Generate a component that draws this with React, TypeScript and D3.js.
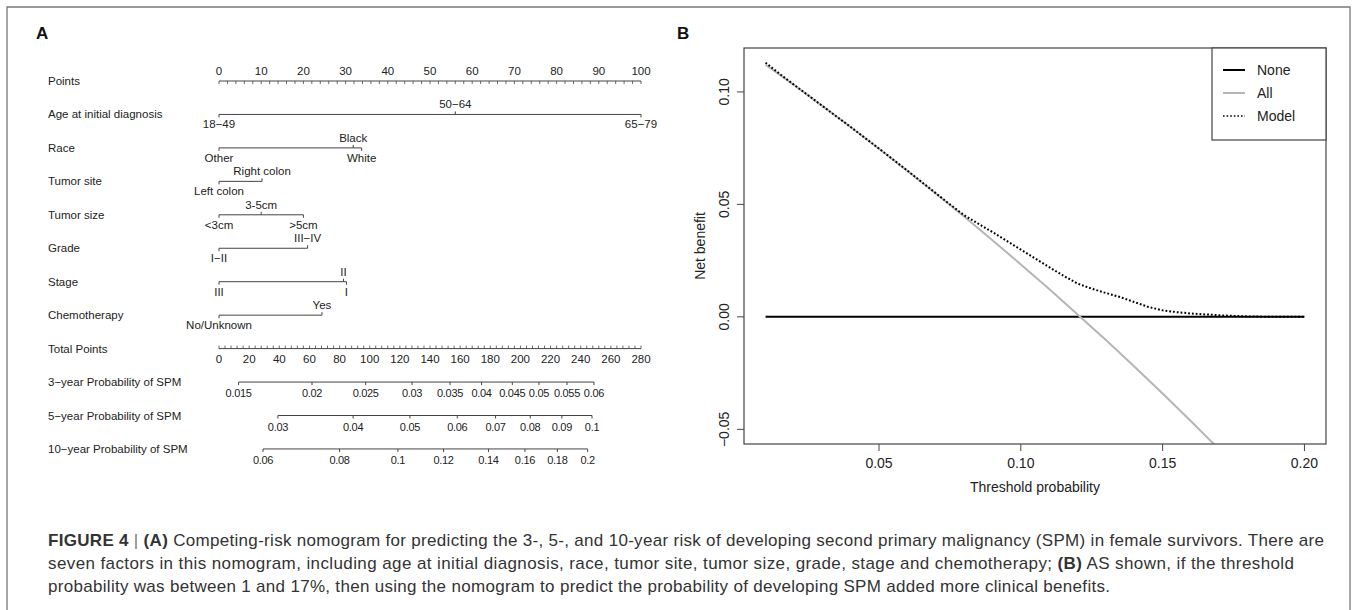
import React from "react";
import * as d3 from "d3";

// ---------- Panel A data (nomogram) ----------
const pointsTickLabels = [0, 10, 20, 30, 40, 50, 60, 70, 80, 90, 100];
const pointsMinorStep = 2;
const totalPointsTickLabels = [0, 20, 40, 60, 80, 100, 120, 140, 160, 180, 200, 220, 240, 260, 280];
const totalPointsMinorStep = 4;

const variableNames = [
  "Age at initial diagnosis",
  "Race",
  "Tumor site",
  "Tumor size",
  "Grade",
  "Stage",
  "Chemotherapy",
];
const ageLevels = ["18−49", "50−64", "65−79"];
const agePoints = [0, 56, 100];
const raceLevels = ["Other", "Black", "White"];
const racePoints = [0, 31.8, 33.8];
const siteLevels = ["Left colon", "Right colon"];
const sitePoints = [0, 10.2];
const sizeLevels = ["<3cm", "3-5cm", ">5cm"];
const sizePoints = [0, 10, 20];
const gradeLevels = ["I−II", "III−IV"];
const gradePoints = [0, 21];
const stageLevels = ["III", "II", "I"];
const stagePoints = [0, 29.5, 30.2];
const chemoLevels = ["No/Unknown", "Yes"];
const chemoPoints = [0, 24.4];

const probNames = [
  "3−year Probability of SPM",
  "5−year Probability of SPM",
  "10−year Probability of SPM",
];
// probability tick labels and the total points at which each sits
const prob3Ticks = [0.015, 0.02, 0.025, 0.03, 0.035, 0.04, 0.045, 0.05, 0.055, 0.06];
const prob3TotalPoints = [13, 61.7, 97.3, 128.1, 153.3, 174.2, 194.6, 212.3, 230.9, 248.8];
const prob5Ticks = [0.03, 0.04, 0.05, 0.06, 0.07, 0.08, 0.09, 0.1];
const prob5TotalPoints = [39.1, 89, 126.7, 158.1, 183.5, 206.5, 227.5, 247.5];
const prob10Ticks = [0.06, 0.08, 0.1, 0.12, 0.14, 0.16, 0.18, 0.2];
const prob10TotalPoints = [29.2, 80, 118.7, 149, 178.8, 203, 224.5, 244.6];

// ---------- Panel B data (decision curve) ----------
const allThresholds = [0.01, 0.02, 0.03, 0.04, 0.05, 0.06, 0.07, 0.08, 0.09, 0.1, 0.11, 0.12, 0.13, 0.14, 0.15, 0.16, 0.17];
const allNetBenefit = [0.1121, 0.1031, 0.0938, 0.0844, 0.0747, 0.0649, 0.0548, 0.0446, 0.0341, 0.0233, 0.0124, 0.0011, -0.0103, -0.0221, -0.0341, -0.0464, -0.059];
const noneThresholds = [0.01, 0.2];
const noneNetBenefit = [0, 0];
const modelThresholds = [
  0.01, 0.015, 0.02, 0.025, 0.03, 0.035, 0.04, 0.045, 0.05, 0.055, 0.06, 0.065, 0.07, 0.075, 0.08,
  0.085, 0.09, 0.095, 0.1, 0.105, 0.11, 0.115, 0.12, 0.125, 0.13, 0.135, 0.14, 0.145, 0.15, 0.155,
  0.16, 0.165, 0.17, 0.175, 0.18, 0.185, 0.19, 0.195, 0.2,
];
const modelNetBenefit = [
  0.113, 0.108, 0.1032, 0.0985, 0.0938, 0.0891, 0.0844, 0.0796, 0.0748, 0.0699, 0.065, 0.06, 0.055, 0.05, 0.0452,
  0.0414, 0.0377, 0.0338, 0.0299, 0.026, 0.0221, 0.0183, 0.0148, 0.0125, 0.0106, 0.0088, 0.0066, 0.0044, 0.0029, 0.0021,
  0.0015, 0.0011, 0.0007, 0.0004, 0.0002, 0.0001, 0, 0, 0,
];
const xTickLabels = [0.05, 0.1, 0.15, 0.2];
const yTickLabels = [-0.05, 0, 0.05, 0.1];
const xDataRange = [0.01, 0.2];
const yDataRange = [-0.05, 0.113];
const legendLabels = ["None", "All", "Model"];

const FONT = "'Liberation Sans', Arial, Helvetica, sans-serif";
const TXT = "#222";
const LINE = "#444";

function Nomogram() {
  const x0 = 219;
  const x1 = 641;
  const rowY = (i: number) => 81 + i * 33.45;
  const ptsX = d3.scaleLinear().domain([0, 100]).range([x0, x1]);
  const totX = d3.scaleLinear().domain([0, 280]).range([x0, x1]);
  const labelX = 48;
  const fs = 11.5;
  const tick = 3;

  const varLevels = [ageLevels, raceLevels, siteLevels, sizeLevels, gradeLevels, stageLevels, chemoLevels];
  const varPoints = [agePoints, racePoints, sitePoints, sizePoints, gradePoints, stagePoints, chemoPoints];

  const items: any[] = [];

  // Points axis
  const py = rowY(0);
  items.push(
    <text key="ptlab" x={labelX} y={py + 4} fontSize={fs} fill={TXT}>Points</text>,
    <line key="ptline" x1={ptsX(0)} x2={ptsX(100)} y1={py} y2={py} stroke={LINE} strokeWidth={1} />
  );
  d3.range(0, 100 + 0.001, pointsMinorStep).forEach((v) => {
    items.push(<line key={"ptt" + v} x1={ptsX(v)} x2={ptsX(v)} y1={py} y2={py + tick} stroke={LINE} strokeWidth={0.8} />);
  });
  pointsTickLabels.forEach((v) => {
    items.push(
      <text key={"ptl" + v} x={ptsX(v)} y={py - 6} fontSize={fs} fill={TXT} textAnchor="middle">{v}</text>
    );
  });

  // Variables
  variableNames.forEach((name, i) => {
    const y = rowY(i + 1);
    const pts = varPoints[i];
    const lv = varLevels[i];
    const order = d3.range(pts.length).sort((a, b) => pts[a] - pts[b]);
    const minP = d3.min(pts) as number;
    const maxP = d3.max(pts) as number;
    items.push(
      <text key={"vn" + i} x={labelX} y={y + 4} fontSize={fs} fill={TXT}>{name}</text>,
      <line key={"vl" + i} x1={ptsX(minP)} x2={ptsX(maxP)} y1={y} y2={y} stroke={LINE} strokeWidth={1} />
    );
    order.forEach((k, j) => {
      const above = j % 2 === 1;
      const xx = ptsX(pts[k]);
      items.push(
        <line key={"vt" + i + "-" + k} x1={xx} x2={xx} y1={y} y2={above ? y - tick : y + tick} stroke={LINE} strokeWidth={1} />,
        <text key={"vtl" + i + "-" + k} x={xx} y={above ? y - 6 : y + 14} fontSize={fs} fill={TXT} textAnchor="middle">{lv[k]}</text>
      );
    });
  });

  // Total points axis
  const ty = rowY(8);
  items.push(
    <text key="tplab" x={labelX} y={ty + 4} fontSize={fs} fill={TXT}>Total Points</text>,
    <line key="tpline" x1={totX(0)} x2={totX(280)} y1={ty} y2={ty} stroke={LINE} strokeWidth={1} />
  );
  d3.range(0, 280 + 0.001, totalPointsMinorStep).forEach((v) => {
    items.push(<line key={"tpt" + v} x1={totX(v)} x2={totX(v)} y1={ty} y2={ty - tick} stroke={LINE} strokeWidth={0.8} />);
  });
  totalPointsTickLabels.forEach((v) => {
    items.push(
      <text key={"tpl" + v} x={totX(v)} y={ty + 14} fontSize={fs} fill={TXT} textAnchor="middle">{v}</text>
    );
  });

  // Probability axes
  const probTicks = [prob3Ticks, prob5Ticks, prob10Ticks];
  const probPts = [prob3TotalPoints, prob5TotalPoints, prob10TotalPoints];
  probNames.forEach((name, i) => {
    const y = rowY(9 + i);
    const ticks = probTicks[i];
    const xs = probPts[i].map((p) => totX(p));
    items.push(
      <text key={"pn" + i} x={labelX} y={y + 4} fontSize={fs} fill={TXT}>{name}</text>,
      <line key={"pl" + i} x1={xs[0]} x2={xs[xs.length - 1]} y1={y} y2={y} stroke={LINE} strokeWidth={1} />
    );
    ticks.forEach((p, k) => {
      items.push(
        <line key={"ptk" + i + "-" + k} x1={xs[k]} x2={xs[k]} y1={y} y2={y + tick} stroke={LINE} strokeWidth={1} />,
        <text key={"ptkl" + i + "-" + k} x={xs[k]} y={y + 15} fontSize={11} letterSpacing={-0.3} fill={TXT} textAnchor="middle">{String(p)}</text>
      );
    });
  });

  return <g fontFamily={FONT}>{items}</g>;
}

function DecisionCurve() {
  const left = 744, right = 1326, top = 48, bottom = 444;
  const xr = xDataRange[1] - xDataRange[0];
  const yr = yDataRange[1] - yDataRange[0];
  const x = d3.scaleLinear().domain([xDataRange[0] - 0.04 * xr, xDataRange[1] + 0.04 * xr]).range([left, right]);
  const y = d3.scaleLinear().domain([yDataRange[0] - 0.04 * yr, yDataRange[1] + 0.04 * yr]).range([bottom, top]);
  const line = d3.line<[number, number]>().x((d) => x(d[0])).y((d) => y(d[1]));
  const zip = (a: number[], b: number[]) => a.map((v, i) => [v, b[i]] as [number, number]);
  const fs = 14;

  const legX = 1212, legY = 48, legW = right - 1212, legH = 92;
  const legendStyles = [
    { stroke: "#000", width: 2, dash: undefined },
    { stroke: "#b5b5b5", width: 2, dash: undefined },
    { stroke: "#000", width: 1.6, dash: "1.6,2" },
  ];

  return (
    <g fontFamily={FONT}>
      <defs>
        <clipPath id="plotclip">
          <rect x={left} y={top} width={right - left} height={bottom - top} />
        </clipPath>
      </defs>
      <g clipPath="url(#plotclip)">
        <path d={line(zip(noneThresholds, noneNetBenefit)) || ""} fill="none" stroke="#000" strokeWidth={2} />
        <path d={line(zip(allThresholds, allNetBenefit)) || ""} fill="none" stroke="#b5b5b5" strokeWidth={2} />
        <path d={line(zip(modelThresholds, modelNetBenefit)) || ""} fill="none" stroke="#000" strokeWidth={2} strokeDasharray="1.8,2" />
      </g>
      <rect x={left} y={top} width={right - left} height={bottom - top} fill="none" stroke={LINE} strokeWidth={1.2} />
      {xTickLabels.map((v) => (
        <g key={"xt" + v}>
          <line x1={x(v)} x2={x(v)} y1={bottom} y2={bottom + 7} stroke={LINE} strokeWidth={1} />
          <text x={x(v)} y={bottom + 24} fontSize={fs} fill={TXT} textAnchor="middle">{d3.format(".2f")(v)}</text>
        </g>
      ))}
      {yTickLabels.map((v) => (
        <g key={"yt" + v}>
          <line x1={left} x2={left - 7} y1={y(v)} y2={y(v)} stroke={LINE} strokeWidth={1} />
          <text transform={`translate(${left - 15},${y(v)}) rotate(-90)`} fontSize={fs} fill={TXT} textAnchor="middle">
            {d3.format(".2f")(v).replace("-", "−")}
          </text>
        </g>
      ))}
      <text x={(left + right) / 2} y={bottom + 48} fontSize={fs} fill={TXT} textAnchor="middle">Threshold probability</text>
      <text transform={`translate(${left - 39},${(top + bottom) / 2}) rotate(-90)`} fontSize={fs} fill={TXT} textAnchor="middle">Net benefit</text>
      <rect x={legX} y={legY} width={legW} height={legH} fill="#fff" stroke={LINE} strokeWidth={1.2} />
      {legendLabels.map((lab, i) => {
        const ly = legY + 22 + i * 23;
        const s = legendStyles[i];
        return (
          <g key={"lg" + lab}>
            <line x1={legX + 11} x2={legX + 33} y1={ly} y2={ly} stroke={s.stroke} strokeWidth={s.width} strokeDasharray={s.dash} />
            <text x={legX + 45} y={ly + 5} fontSize={fs} fill={TXT}>{lab}</text>
          </g>
        );
      })}
    </g>
  );
}

export default function App() {
  return (
    <svg
      width={1357}
      height={610}
      style={{ position: "absolute", left: 0, top: 0, background: "#fff" }}
      fontFamily={FONT}
    >
      <rect x={0} y={0} width={1357} height={610} fill="#fff" />
      <path d="M7,620 V7 H1350 V620" fill="none" stroke="#777" strokeWidth={1.3} />
      <text x={36} y={39} fontSize={17} fontWeight="bold" fill="#111">A</text>
      <text x={677} y={39} fontSize={17} fontWeight="bold" fill="#111">B</text>
      <Nomogram />
      <DecisionCurve />
      <g fontSize={17} fill="#333">
        <text x={48} y={546} textLength={1276} lengthAdjust="spacing">
          <tspan fontWeight="bold">FIGURE 4</tspan>
          <tspan fill="#777"> | </tspan>
          <tspan fontWeight="bold">(A)</tspan>
          {" Competing-risk nomogram for predicting the 3-, 5-, and 10-year risk of developing second primary malignancy (SPM) in female survivors. There are"}
        </text>
        <text x={48} y={569} textLength={1246} lengthAdjust="spacing">
          {"seven factors in this nomogram, including age at initial diagnosis, race, tumor site, tumor size, grade, stage and chemotherapy; "}
          <tspan fontWeight="bold">(B)</tspan>
          {" AS shown, if the threshold"}
        </text>
        <text x={48} y={592} textLength={1062} lengthAdjust="spacing">
          probability was between 1 and 17%, then using the nomogram to predict the probability of developing SPM added more clinical benefits.
        </text>
      </g>
    </svg>
  );
}
